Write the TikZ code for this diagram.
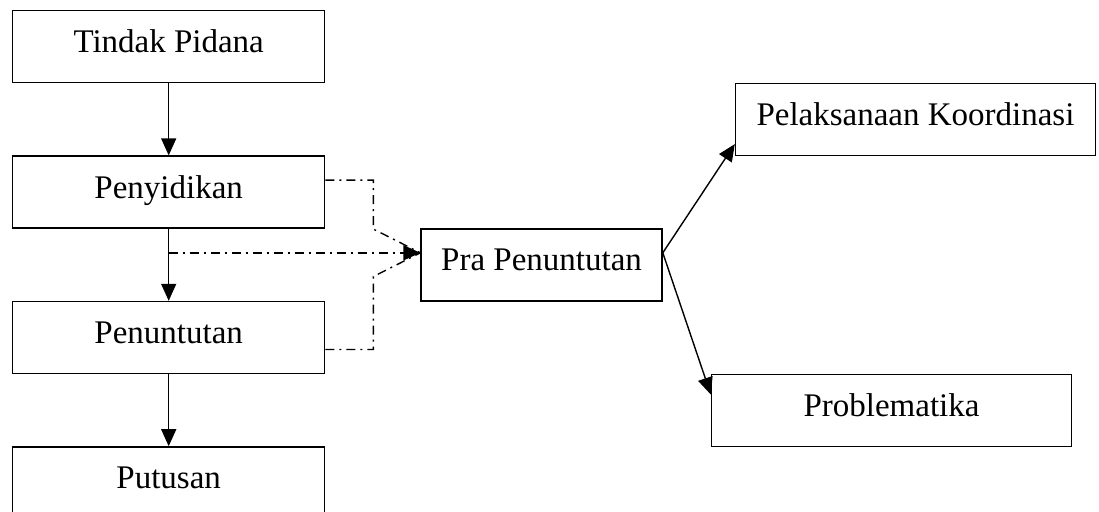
\documentclass[tikz,border=0pt]{standalone}
\usepackage{fontspec}
\setmainfont{Liberation Serif}
\usetikzlibrary{arrows.meta, positioning, calc}

\begin{document}
\begin{tikzpicture}[node distance=36pt, line width=0.7pt,
    every node/.style={font=\fontsize{16.5}{20}\selectfont},
    box/.style={draw, minimum width=156pt, minimum height=36pt, inner sep=0pt, text height=10pt, text depth=4pt},
    arr/.style={-{Triangle[length=8.5pt, width=7.5pt]}},
    dd/.style={dash pattern=on 4.5pt off 2.5pt on 1pt off 2.5pt}]
    \node[box] (tp) {Tindak Pidana};
    \useasboundingbox ($(tp.north west)+(-6pt,5pt)$) rectangle ++(549.5pt,-255.5pt);
    \node[box, below=of tp] (syd) {Penyidikan};
    \node[box, below=of syd] (tut) {Penuntutan};
    \node[box, below=of tut] (put) {Putusan};
    \coordinate (mid) at ($(syd.east)!0.5!(tut.east)$);
    \node[box, minimum width=120.5pt, right=47.5pt of mid] (pra) {Pra Penuntutan};
    \node[box, minimum width=180pt, above right=36pt and 36pt of pra] (pel) {Pelaksanaan Koordinasi};
    \node[box, minimum width=180pt, below right=36pt and 24pt of pra] (prob) {Problematika};
    \coordinate (in) at ([yshift=6pt]pra.west);

    \draw[arr] (tp) -- (syd);
    \draw[arr] (syd) -- (tut);
    \draw[arr] (tut) -- (put);

    \draw[dd] ([yshift=6pt]syd.east) -- ++(24pt,0) -- ++(0,-24.5pt) -- (in);
    \draw[dd, arr] (syd.south |- in) -- (in);
    \draw[dd] ([yshift=-6pt]tut.east) -- ++(24pt,0) -- ++(0,36.5pt) -- (in);

    \draw[arr] ([yshift=6pt]pra.east) -- ([yshift=6pt]pel.south west);
    \draw[arr] ([yshift=6pt]pra.east) -- ([yshift=-10.5pt]prob.north west);
\end{tikzpicture}
\end{document}
